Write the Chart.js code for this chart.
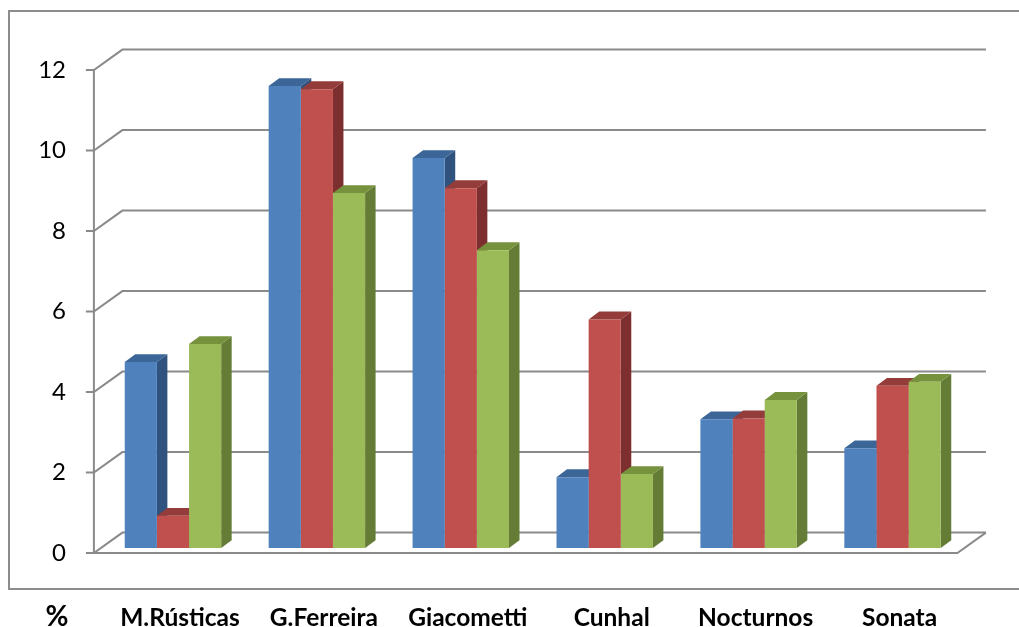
<!DOCTYPE html>
<html>
<head>
<meta charset="utf-8">
<script src="https://cdn.jsdelivr.net/npm/chart.js@4/dist/chart.umd.min.js"></script>
<style>
  html, body { margin: 0; padding: 0; background: #fff; }
  #wrap { width: 1019px; height: 627px; position: relative; }
</style>
</head>
<body>
<div id="wrap"><canvas id="c" width="1019" height="627"></canvas></div>
<script>
// Categories and series values (%)
const categories = ['M.Rústicas', 'G.Ferreira', 'Giacometti', 'Cunhal', 'Nocturnos', 'Sonata'];
const serie1 = [4.62, 11.48, 9.69, 1.76, 3.20, 2.48];
const serie2 = [0.80, 11.40, 8.94, 5.68, 3.22, 4.03];
const serie3 = [5.07, 8.82, 7.40, 1.84, 3.68, 4.13];
const yTicks = [0, 2, 4, 6, 8, 10, 12];
const unitLabel = '%';

// Face colours: front, top, side
const palette = [
  { front: '#4F81BD', top: '#3C6698', side: '#30527E' },
  { front: '#C0504D', top: '#943C3A', side: '#7C2F2E' },
  { front: '#9BBB59', top: '#76923C', side: '#647C35' }
];

// Depth geometry (px): bar plane sits a quarter of the way into the box
const FRONT = { dx: -7.1, dy: 5.1 };
const BACK = { dx: 21.4, dy: -15.4 };
const BAR = { dx: 10.5, dy: -7.8 };
const GRID = '#8a8a8a';

const box3d = {
  id: 'box3d',
  beforeDatasetsDraw(chart) {
    const { ctx, chartArea: a, scales: { y } } = chart;
    ctx.save();
    // back wall, left wall and floor lines
    ctx.strokeStyle = GRID;
    ctx.lineWidth = 2;
    ctx.lineCap = 'butt';
    const fx = a.left + FRONT.dx;
    yTicks.forEach(v => {
      const py = y.getPixelForValue(v);
      ctx.beginPath();
      ctx.moveTo(fx - 8, py + FRONT.dy);
      ctx.lineTo(fx, py + FRONT.dy);
      ctx.lineTo(a.left + BACK.dx, py + BACK.dy);
      ctx.lineTo(a.right + BACK.dx, py + BACK.dy);
      ctx.stroke();
    });
    const y0 = y.getPixelForValue(0);
    const yTop = y.getPixelForValue(yTicks[yTicks.length - 1]);
    ctx.beginPath();
    ctx.moveTo(fx, yTop + FRONT.dy);
    ctx.lineTo(fx, y0 + FRONT.dy);
    ctx.lineTo(a.right + FRONT.dx, y0 + FRONT.dy);
    ctx.lineTo(a.right + BACK.dx, y0 + BACK.dy);
    ctx.stroke();

    // side and top faces of every bar, left to right; fronts are drawn over them
    const metas = chart.getSortedVisibleDatasetMetas().slice().sort((m1, m2) => m1.index - m2.index);
    metas.forEach(meta => {
      const col = palette[meta.index];
      meta.data.forEach(el => {
        const p = el.getProps(['x', 'y', 'base', 'width'], true);
        const l = p.x - p.width / 2, r = p.x + p.width / 2;
        ctx.fillStyle = col.side;
        ctx.beginPath();
        ctx.moveTo(r, p.y);
        ctx.lineTo(r + BAR.dx, p.y + BAR.dy);
        ctx.lineTo(r + BAR.dx, p.base + BAR.dy);
        ctx.lineTo(r, p.base);
        ctx.closePath();
        ctx.fill();
        ctx.fillStyle = col.top;
        ctx.beginPath();
        ctx.moveTo(l, p.y);
        ctx.lineTo(l + BAR.dx, p.y + BAR.dy);
        ctx.lineTo(r + BAR.dx, p.y + BAR.dy);
        ctx.lineTo(r, p.y);
        ctx.closePath();
        ctx.fill();
      });
    });
    ctx.restore();
  },
  afterDraw(chart) {
    const { ctx } = chart;
    ctx.save();
    // outer frame
    ctx.strokeStyle = '#8c8c8c';
    ctx.lineWidth = 2;
    ctx.beginPath();
    ctx.moveTo(1030, 11);
    ctx.lineTo(9, 11);
    ctx.lineTo(9, 589);
    ctx.lineTo(1030, 589);
    ctx.stroke();
    // unit label
    ctx.fillStyle = '#000';
    ctx.font = 'bold 28px Lato';
    ctx.textAlign = 'center';
    ctx.textBaseline = 'alphabetic';
    ctx.fillText(unitLabel, 57, 626);
    ctx.restore();
  }
};

new Chart(document.getElementById('c'), {
  type: 'bar',
  data: {
    labels: categories,
    datasets: [serie1, serie2, serie3].map((d, i) => ({
      label: 'serie' + (i + 1),
      data: d,
      backgroundColor: palette[i].front,
      borderWidth: 0,
      categoryPercentage: 0.67,
      barPercentage: 1
    }))
  },
  options: {
    responsive: false,
    animation: false,
    devicePixelRatio: 1,
    layout: { padding: { left: 0, right: 54.5, top: 65, bottom: 0 } },
    plugins: { legend: { display: false }, tooltip: { enabled: false } },
    scales: {
      x: {
        offset: true,
        grid: { display: false, drawTicks: false },
        border: { display: false },
        ticks: {
          color: '#000',
          font: { family: 'Lato', size: 24.5, weight: 'bold' },
          padding: 55,
          labelOffset: 7,
          maxRotation: 0,
          autoSkip: false
        },
        afterFit(s) { s.height = 79; }
      },
      y: {
        min: 0,
        max: 12,
        grid: { display: false, drawTicks: false },
        border: { display: false },
        ticks: {
          stepSize: 2,
          color: '#000',
          font: { family: 'Lato', size: 24 },
          padding: 35,
          labelOffset: 5
        },
        afterFit(s) { s.width = 101; }
      }
    }
  },
  plugins: [box3d]
});
</script>
</body>
</html>
